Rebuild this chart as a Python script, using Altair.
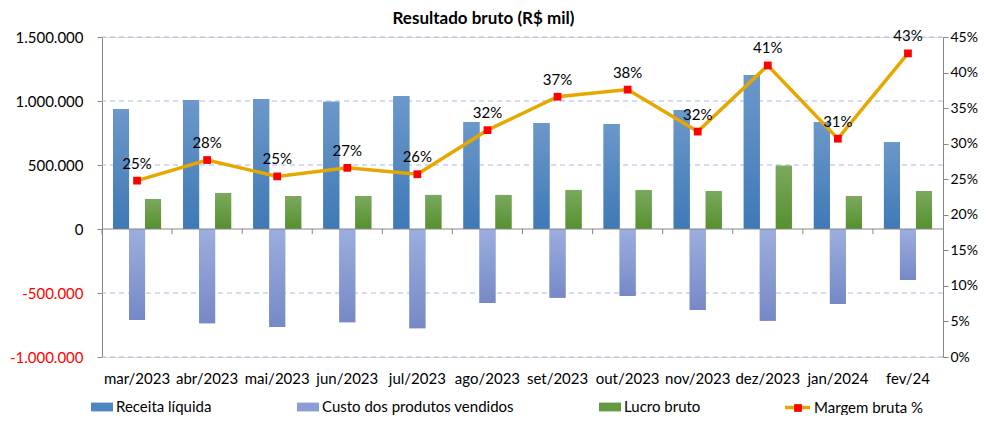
import altair as alt
import pandas as pd

meses = ["mar/2023", "abr/2023", "mai/2023", "jun/2023", "jul/2023", "ago/2023",
         "set/2023", "out/2023", "nov/2023", "dez/2023", "jan/2024", "fev/24"]
receita = [937, 1008, 1016, 995, 1039, 836, 828, 820, 930, 1203, 836, 680]
custo = [-711, -737, -766, -729, -776, -578, -537, -523, -633, -716, -586, -398]
lucro = [234, 281, 258, 258, 266, 266, 305, 305, 297, 495, 258, 297]
margem = [0.248, 0.277, 0.254, 0.266, 0.257, 0.319, 0.366, 0.376, 0.317, 0.410, 0.307, 0.427]
y_ticks = [-1000000, -500000, 0, 500000, 1000000, 1500000]
grid_vals = [-1000000, -500000, 500000, 1000000, 1500000]

series = ["Receita líquida", "Custo dos produtos vendidos", "Lucro bruto"]
cores = ["#4f86c0", "#8a9dd4", "#649a3f"]
grad_cores = [("#6c98ca", "#3e79b6"), ("#9caede", "#7689c6"), ("#7ba95e", "#55902e")]

rows = []
for i, m in enumerate(meses):
    for s, vals in zip(series, [receita, custo, lucro]):
        rows.append({"mes": m, "serie": s, "valor": vals[i] * 1000})
bars_df = pd.DataFrame(rows)
line_df = pd.DataFrame({"mes": meses, "margem": margem,
                        "serie": ["Margem bruta %"] * len(meses),
                        "serie_p": ["p"] * len(meses)})
tick_df = pd.DataFrame({"mes": meses, "y0": [0] * len(meses), "y1": [-40000] * len(meses)})
zero_df = pd.DataFrame({"zero": [0]})
grid_df = pd.DataFrame({"g": grid_vals})

FONT = "Lato"
GRAY = "#868686"
GRID = "#a9b7ea"

x_scale = alt.Scale(domain=meses, paddingInner=0, paddingOuter=0)
x_axis = alt.Axis(title=None, domain=False, ticks=False, labelAngle=0, labelPadding=14,
                  labelFontSize=15, labelFont=FONT, labelColor="black", labelOverlap=False, grid=False)


def xe(**kw):
    return alt.X("mes:N", sort=meses, scale=x_scale, axis=x_axis, **kw)


y_scale = alt.Scale(domain=[-1000000, 1500000], nice=False, zero=False)
y_axis = alt.Axis(
    title=None,
    values=y_ticks,
    labelExpr="(datum.value < 0 ? '-' : '') + replace(format(abs(datum.value), ','), regexp(',', 'g'), '.')",
    labelColor={"condition": {"test": "datum.value < 0", "value": "#ff0000"}, "value": "black"},
    labelFontSize=15, labelFont=FONT, labelPadding=14, tickSize=5, tickColor=GRAY,
    domainColor=GRAY, grid=False,
)

y2_scale = alt.Scale(domain=[0, 0.45], nice=False, zero=False)
y2_axis = alt.Axis(
    orient="right", title=None,
    values=[0, 0.05, 0.10, 0.15, 0.20, 0.25, 0.30, 0.35, 0.40, 0.45],
    format=".0%", labelFontSize=14, labelFont=FONT, labelColor="black", labelPadding=2,
    tickSize=5, tickColor=GRAY, domainColor=GRAY, grid=False,
)

xoff = alt.XOffset("serie:N", sort=series,
                   scale=alt.Scale(domain=series, paddingInner=0, paddingOuter=0.6875))

grid_rules = alt.Chart(grid_df).mark_rule(color=GRID, strokeWidth=1, strokeDash=[5, 4]).encode(
    y=alt.Y("g:Q", scale=y_scale, axis=y_axis)
)

base_bars = alt.Chart(bars_df).mark_bar().encode(
    x=xe(),
    xOffset=xoff,
    y=alt.Y("valor:Q", scale=y_scale, axis=y_axis),
    color=alt.Color("serie:N", sort=series, scale=alt.Scale(domain=series, range=cores),
                    legend=alt.Legend(title=None, orient="none", legendX=-11, legendY=359,
                                      direction="horizontal", symbolType="M-1,-0.4H1V0.4H-1Z",
                                      symbolSize=484, symbolStrokeWidth=0, labelFontSize=15,
                                      labelFont=FONT, labelColor="black", columnPadding=85,
                                      labelOffset=3, labelLimit=400, padding=0)),
)

grad_layers = []
for s, (top, bot) in zip(series, grad_cores):
    g = alt.Gradient(gradient="linear",
                     stops=[alt.GradientStop(color=top, offset=0), alt.GradientStop(color=bot, offset=1)],
                     x1=0, x2=0, y1=0, y2=1)
    grad_layers.append(
        alt.Chart(bars_df).transform_filter(alt.datum.serie == s).mark_bar(color=g).encode(
            x=xe(), xOffset=xoff, y=alt.Y("valor:Q", scale=y_scale, axis=y_axis)
        )
    )

zero_rule = alt.Chart(zero_df).mark_rule(color=GRAY, strokeWidth=1).encode(
    y=alt.Y("zero:Q", scale=y_scale, axis=y_axis)
)
ticks = alt.Chart(tick_df).mark_rule(color=GRAY, strokeWidth=1).encode(
    x=xe(bandPosition=0),
    y=alt.Y("y0:Q", scale=y_scale, axis=y_axis),
    y2="y1:Q",
)

left = alt.layer(grid_rules, base_bars, *grad_layers, zero_rule, ticks)

line = alt.Chart(line_df).mark_line(strokeWidth=3.5).encode(
    x=xe(),
    y=alt.Y("margem:Q", scale=y2_scale, axis=y2_axis),
    stroke=alt.Stroke("serie:N", scale=alt.Scale(range=["#e6a800"]),
                      legend=alt.Legend(title=None, orient="none", legendX=681, legendY=356,
                                        symbolType="stroke", symbolSize=625, symbolStrokeWidth=3.5,
                                        labelFontSize=15, labelFont=FONT, labelColor="black",
                                        labelOffset=2, labelLimit=300, padding=0)),
)
points = alt.Chart(line_df).mark_point(filled=True, size=60, opacity=1, color="#ff0000").encode(
    x=xe(),
    y=alt.Y("margem:Q", scale=y2_scale, axis=y2_axis),
    shape=alt.Shape("serie_p:N", scale=alt.Scale(range=["square"]),
                    legend=alt.Legend(title=None, orient="none", legendX=691, legendY=366,
                                      symbolSize=60, symbolFillColor="#ff0000", symbolStrokeWidth=0,
                                      labelExpr="''", padding=0)),
)
labels = alt.Chart(line_df).mark_text(dy=-17, fontSize=15, font=FONT, color="black").encode(
    x=xe(),
    y=alt.Y("margem:Q", scale=y2_scale, axis=y2_axis),
    text=alt.Text("margem:Q", format=".0%"),
)

right = alt.layer(line, points, labels)

chart = alt.layer(left, right).resolve_scale(y="independent").properties(
    width=841, height=320,
    padding={"left": 94, "top": 29, "right": 35, "bottom": 58},
    autosize="none",
    title=alt.TitleParams("Resultado bruto (R$ mil)", font=FONT, fontSize=17, fontWeight="bold",
                          anchor="middle", frame="group", dx=-39, dy=7, offset=8, color="black"),
).configure_view(stroke=None).configure(background="white")

chart.save("out.html", embed_options={"renderer": "svg", "actions": False})
